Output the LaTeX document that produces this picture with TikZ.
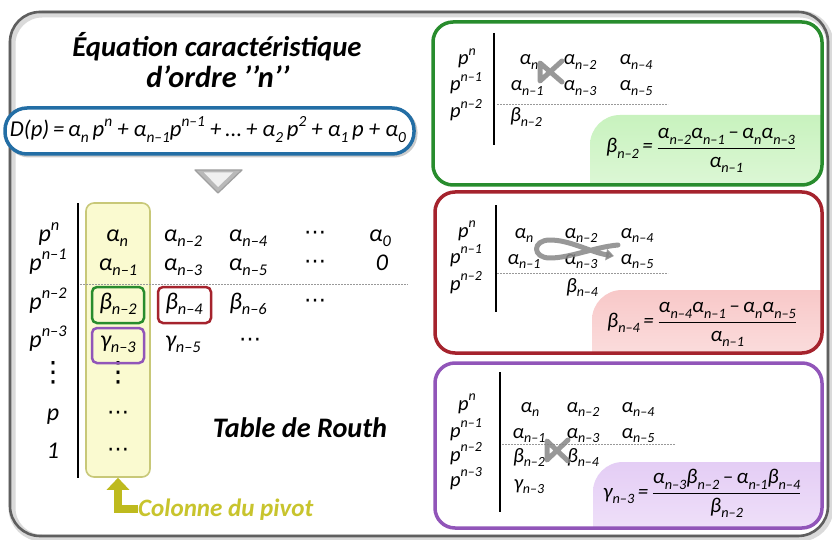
\documentclass[tikz,border=0pt]{standalone}
\usepackage{fontspec}
\usepackage{graphicx}
\setmainfont{Carlito}
\newfontfamily\djv{DejaVu Sans}
\usetikzlibrary{arrows.meta}

\definecolor{frameC}{RGB}{95,95,95}
\definecolor{frameL}{RGB}{218,218,218}
\definecolor{eqC}{RGB}{35,110,165}
\definecolor{grC}{RGB}{40,140,45}
\definecolor{grT}{RGB}{200,242,190}
\definecolor{grB}{RGB}{236,251,232}
\definecolor{rdC}{RGB}{165,35,45}
\definecolor{rdT}{RGB}{248,200,200}
\definecolor{rdB}{RGB}{253,238,238}
\definecolor{puC}{RGB}{145,85,185}
\definecolor{puT}{RGB}{228,205,245}
\definecolor{puB}{RGB}{247,238,252}
\definecolor{pvF}{RGB}{250,250,208}
\definecolor{pvD}{RGB}{200,200,120}
\definecolor{pvA}{RGB}{190,186,30}
\definecolor{pvT}{RGB}{200,196,45}
\definecolor{loopC}{RGB}{135,135,135}

\newcommand\sbs[1]{\raisebox{-0.24em}{\scalebox{0.68}{#1}}}
\newcommand\sps[1]{\raisebox{0.45em}{\scalebox{0.68}{#1}}}
\newcommand\A[1]{α\sbs{#1}}
\newcommand\B[1]{β\sbs{#1}}
\newcommand\G[1]{γ\sbs{#1}}
\newcommand\Pw[1]{p\sps{#1}}

\begin{document}
\begin{tikzpicture}[x=1pt,y=-1pt,
 ent/.style={anchor=base,inner sep=0pt,font=\fontsize{24}{28}\selectfont\itshape},
 pent/.style={anchor=base,inner sep=0pt,font=\fontsize{20.5}{24}\selectfont\itshape},
 fent/.style={anchor=base west,inner sep=0pt,font=\fontsize{21}{26}\selectfont\itshape},
 dotsn/.style={inner sep=0pt,font=\fontsize{22}{26}\selectfont\djv},
 vdotsn/.style={inner sep=0pt,font=\fontsize{28}{30}\selectfont\djv},
 vsep/.style={line width=2.8pt,black},
 dashsep/.style={gray!80,line width=0.8pt,dash pattern=on 1.6pt off 1.4pt},
 selbox/.style={line width=2.5pt,rounded corners=5pt},
 panelB/.style={line width=3.5pt,rounded corners=20pt},
 crossline/.style={loopC,line width=5pt,line join=round,line cap=round,opacity=.85},
 ttl/.style={anchor=base,inner sep=0pt,font=\bfseries\itshape},
 pivotbox/.style={draw=pvD,fill=pvF,line width=1.6pt,rounded corners=8pt,inner sep=0pt},
 pivarrow/.style={pvA,line width=8pt,line join=miter,-{Triangle[width=22pt,length=12pt]}},
]
\fill[white] (0,0) rectangle (832,540);
\useasboundingbox (0,0) rectangle (832,540);

% outer frame
\draw[frameL,line width=7pt,rounded corners=30pt] (12,14) rectangle (830,538);
\draw[frameC,line width=2.6pt,rounded corners=30pt] (10,12) rectangle (828,536);

% title
\node[ttl] (t1) at (217,57) {\resizebox{289pt}{!}{Équation caractéristique}};
\node[ttl] (t2) at (218,88) {\resizebox{143pt}{!}{d’ordre ’’n’’}};

% equation box
\draw[gray!40,line width=3pt,rounded corners=22pt] (7,110) rectangle (416,156);
\draw[eqC,line width=3.5pt,rounded corners=22pt,fill=white] (5,108) rectangle (414,154);
\node[anchor=base,inner sep=0pt,font=\itshape] (eqt) at (208,137) {\resizebox{396pt}{!}{D(p)\,=\,\A{n}\,\Pw{n} + \A{n–1}\Pw{n–1} +\,...\,+ \A{2}\,\Pw{2} + \A{1}\,p + \A{0}}};

% triangle
\filldraw[fill=gray!55,draw=gray!75,line width=1.2pt,line join=round] (195,170) -- (242,170) -- (218,193) -- cycle;
\fill[gray!12] (204,172.5) -- (233,172.5) -- (218,187) -- cycle;

% left table
\node[pivotbox,minimum width=64pt,minimum height=274pt] (pivot) at (118,340) {};
\draw[vsep] (78,203) -- (78,478);
\draw[dashsep] (80,284) -- (408,284);

\node[ent] (L1) at (49,241) {\Pw{n}};
\node[ent] (L2) at (48,270) {\Pw{n–1}};
\node[ent] (L3) at (48,309) {\Pw{n–2}};
\node[ent] (L4) at (48,347) {\Pw{n–3}};
\node[vdotsn] (L5) at (53,373) {⋮};
\node[ent] (L6) at (53,420) {p};
\node[ent] (L7) at (53,458) {1};

\node[ent] (a1) at (117,241) {\A{n}};
\node[ent] (a2) at (183,241) {\A{n–2}};
\node[ent] (a3) at (248,241) {\A{n–4}};
\node[dotsn] (a4) at (315,235) {⋯};
\node[ent] (a5) at (380,241) {\A{0}};

\node[ent] (b1) at (118,270) {\A{n–1}};
\node[ent] (b2) at (183,270) {\A{n–3}};
\node[ent] (b3) at (248,270) {\A{n–5}};
\node[dotsn] (b4) at (315,264) {⋯};
\node[ent] (b5) at (382,270) {0};

\node[ent] (c1) at (118,309) {\B{n–2}};
\node[ent] (c2) at (184,309) {\B{n–4}};
\node[ent] (c3) at (248,309) {\B{n–6}};
\node[dotsn] (c4) at (315,303) {⋯};

\node[ent] (d1) at (118,347) {\G{n–3}};
\node[ent] (d2) at (183,347) {\G{n–5}};
\node[dotsn] (d3) at (250,342) {⋯};

\node[vdotsn] (e1) at (118,373) {⋮};
\node[dotsn] (f1) at (118,415) {⋯};
\node[dotsn] (g1) at (118,452) {⋯};

\draw[selbox,grC] (92,287) rectangle (144,323);
\draw[selbox,rdC] (158,287) rectangle (211,323);
\draw[selbox,puC] (92,328) rectangle (144,363);

\node[ttl] (tr) at (300,437) {\resizebox{174pt}{!}{Table de Routh}};

\node[ttl,anchor=base west,pvT] (colp) at (138,516) {\resizebox{175pt}{!}{Colonne du pivot}};
\draw[pivarrow] (colp.west) -| (pivot.south);

% ---------- green panel ----------
\begin{scope}
\clip[rounded corners=20pt] (433,22) rectangle (822,185);
\shade[top color=grT,bottom color=grB,rounded corners=30pt] (590,115) rectangle (870,240);
\end{scope}
\draw[panelB,grC] (433,22) rectangle (822,185);
\draw[vsep] (494,33) -- (494,145);
\draw[dashsep] (497,104) -- (668,104);
\node[pent] (gL1) at (467,65) {\Pw{n}};
\node[pent] (gL2) at (466,91) {\Pw{n–1}};
\node[pent] (gL3) at (466,118) {\Pw{n–2}};
\node[pent] (g11) at (529,65) {\A{n}};
\node[pent] (g12) at (580,65) {\A{n–2}};
\node[pent] (g13) at (636,65) {\A{n–4}};
\node[pent] (g21) at (527,91) {\A{n–1}};
\node[pent] (g22) at (580,91) {\A{n–3}};
\node[pent] (g23) at (636,91) {\A{n–5}};
\node[pent] (g31) at (526,122) {\B{n–2}};
\draw[crossline] (562,61) -- (540,81) -- (540,63) -- (562,82);
\node[fent] (gf) at (606,153) {\B{n–2}\,=\,$\displaystyle\frac{\mbox{\A{n–2}\A{n–1}\,–\,\A{n}\A{n–3}}}{\mbox{\A{n–1}}}$};

% ---------- red panel ----------
\begin{scope}
\clip[rounded corners=20pt] (435,192) rectangle (822,353);
\shade[top color=rdT,bottom color=rdB,rounded corners=30pt] (592,290) rectangle (870,410);
\end{scope}
\draw[panelB,rdC] (435,192) rectangle (822,353);
\draw[vsep] (496,205) -- (496,312);
\draw[dashsep] (497,273) -- (668,273);
\node[pent] (rL1) at (467,237) {\Pw{n}};
\node[pent] (rL2) at (466,263) {\Pw{n–1}};
\node[pent] (rL3) at (466,290) {\Pw{n–2}};
\node[pent] (r11) at (524,238) {\A{n}};
\node[pent] (r12) at (581,238) {\A{n–2}};
\node[pent] (r13) at (637,238) {\A{n–4}};
\node[pent] (r21) at (524,264) {\A{n–1}};
\node[pent] (r22) at (581,264) {\A{n–3}};
\node[pent] (r23) at (637,264) {\A{n–5}};
\node[pent] (r31) at (582,292) {\B{n–4}};
\draw[crossline,-{Triangle[width=11pt,length=8pt]}] (618,245) .. controls (595,247) and (570,258) .. (550,258) .. controls (532,258) and (532,240) .. (550,240) .. controls (570,240) and (590,252) .. (614,256);
\node[fent] (rf) at (607,327) {\B{n–4}\,=\,$\displaystyle\frac{\mbox{\A{n–4}\A{n–1}\,–\,\A{n}\A{n–5}}}{\mbox{\A{n–1}}}$};

% ---------- purple panel ----------
\begin{scope}
\clip[rounded corners=20pt] (435,363) rectangle (822,528);
\shade[top color=puT,bottom color=puB,rounded corners=30pt] (593,462) rectangle (870,580);
\end{scope}
\draw[panelB,puC] (435,363) rectangle (822,528);
\draw[vsep] (500,372) -- (500,512);
\draw[dashsep] (502,444) -- (675,444);
\node[pent] (pL1) at (467,410) {\Pw{n}};
\node[pent] (pL2) at (466,437) {\Pw{n–1}};
\node[pent] (pL3) at (466,461) {\Pw{n–2}};
\node[pent] (pL4) at (466,486) {\Pw{n–3}};
\node[pent] (p11) at (530,412) {\A{n}};
\node[pent] (p12) at (583,412) {\A{n–2}};
\node[pent] (p13) at (638,412) {\A{n–4}};
\node[pent] (p21) at (529,438) {\A{n–1}};
\node[pent] (p22) at (583,438) {\A{n–3}};
\node[pent] (p23) at (638,438) {\A{n–5}};
\node[pent] (p31) at (529,462) {\B{n–2}};
\node[pent] (p32) at (583,462) {\B{n–4}};
\node[pent] (p41) at (529,489) {\G{n–3}};
\draw[crossline] (568,440) -- (547,460) -- (547,441) -- (568,461);
\node[fent] (pf) at (603,498) {\G{n–3}\,=\,$\displaystyle\frac{\mbox{\A{n–3}\B{n–2}\,–\,\A{n-1}\B{n–4}}}{\mbox{\B{n–2}}}$};

\end{tikzpicture}
\end{document}
